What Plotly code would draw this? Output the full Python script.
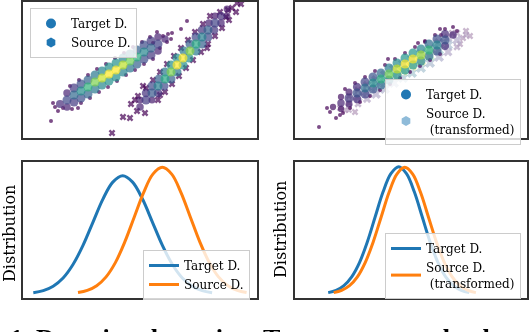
import numpy as np
import plotly.graph_objects as go

# ---- data (pixel-like units, no ticks on any axis) ----
# top-left: target cloud (round markers), value = local density
tl_tgt_x = [60, 67, 74, 81, 88, 95, 102, 109, 116, 123, 130, 137, 144, 151, 158, 165,
            67, 74, 81, 88, 95, 102, 109, 116, 123, 130, 137, 144, 151, 158,
            67, 74, 81, 88, 95, 102, 109, 116, 123, 130, 137, 144, 151, 158,
            70, 79, 88, 97, 106, 115, 124, 133, 142, 150, 157,
            72, 81, 90, 99, 108, 117, 126, 135, 144, 153,
            51, 55, 58, 63, 78, 53, 168, 163, 172, 171, 181, 187, 167, 153, 160]
tl_tgt_y = [104, 100, 95, 91, 87, 82, 78, 74, 70, 65, 61, 57, 52, 48, 44, 39,
            93, 88, 84, 80, 75, 71, 67, 63, 58, 54, 50, 45, 41, 37,
            107, 102, 98, 94, 89, 85, 81, 77, 72, 68, 64, 59, 55, 51,
            86, 80, 75, 69, 64, 58, 53, 47, 42, 37, 32,
            109, 103, 98, 92, 87, 81, 75, 70, 64, 59,
            121, 107, 111, 108, 108, 103, 34, 36, 33, 39, 29, 21, 42, 43, 48]
tl_tgt_d = [0.12, 0.22, 0.34, 0.48, 0.65, 0.8, 0.92, 1.0, 1.0, 0.9, 0.78, 0.62, 0.46, 0.32, 0.2, 0.1,
            0.1, 0.17, 0.24, 0.32, 0.4, 0.46, 0.5, 0.5, 0.45, 0.39, 0.31, 0.23, 0.16, 0.1,
            0.1, 0.17, 0.24, 0.32, 0.4, 0.46, 0.5, 0.5, 0.45, 0.39, 0.31, 0.23, 0.16, 0.1] + [0] * 36

# top-left: source cloud (x markers)
tl_src_x = [140, 146, 152, 158, 165, 171, 177, 183, 190, 196, 202, 208, 215, 221, 227,
            140, 146, 152, 159, 165, 171, 177, 184, 190, 196, 202, 209, 215,
            152, 158, 164, 171, 177, 183, 189, 196, 202, 208, 214, 221, 227,
            131, 138, 146, 153, 160, 167, 174, 181, 188, 195, 203, 210,
            158, 165, 172, 179, 186, 193, 201, 208, 215, 222, 229, 236,
            112, 123, 130, 137, 135, 143, 160, 207, 237, 241, 228, 226, 232, 220, 145]
tl_src_y = [107, 100, 93, 86, 79, 72, 65, 58, 51, 44, 37, 30, 23, 16, 9,
            100, 93, 86, 79, 72, 65, 58, 51, 44, 37, 30, 23, 16,
            100, 93, 86, 79, 72, 65, 58, 51, 44, 37, 30, 23, 16,
            104, 96, 88, 80, 72, 64, 56, 48, 40, 32, 24, 16,
            100, 92, 84, 76, 68, 60, 52, 44, 36, 28, 20, 12,
            133, 117, 118, 111, 100, 86, 95, 48, 3, 4, 10, 17, 8, 12, 113]
tl_src_d = [0.1, 0.17, 0.28, 0.43, 0.6, 0.8, 1.0, 1.0, 0.82, 0.6, 0.43, 0.3, 0.2, 0.13, 0.07,
            0.08, 0.14, 0.22, 0.3, 0.4, 0.5, 0.5, 0.41, 0.3, 0.22, 0.15, 0.1, 0.07,
            0.08, 0.14, 0.22, 0.3, 0.4, 0.5, 0.5, 0.41, 0.3, 0.22, 0.15, 0.1, 0.07] + [0] * 39

# top-right: target cloud
tr_tgt_x = [333, 341, 349, 357, 365, 373, 381, 389, 397, 405, 413, 421, 429, 437, 445, 453,
            341, 349, 357, 365, 373, 381, 389, 397, 405, 413, 421, 429, 437, 445,
            341, 349, 357, 365, 373, 381, 389, 397, 405, 413, 421, 429, 437, 445,
            345, 355, 365, 375, 385, 395, 405, 415, 425, 435, 445,
            350, 360, 370, 380, 390, 400, 410, 420, 430, 440,
            319, 327, 330, 340, 343, 336, 453, 440, 441, 418, 425, 388, 457]
tr_tgt_y = [107, 103, 98, 93, 88, 83, 79, 74, 69, 64, 59, 55, 50, 45, 40, 35,
            97, 92, 87, 82, 77, 73, 68, 63, 58, 53, 49, 44, 39, 34,
            109, 104, 99, 94, 89, 85, 80, 75, 70, 65, 61, 56, 51, 46,
            89, 83, 77, 71, 65, 59, 53, 47, 41, 35, 29,
            108, 102, 96, 90, 84, 78, 72, 66, 60, 54,
            127, 108, 112, 115, 113, 118, 27, 29, 35, 43, 42, 59, 31]
tr_tgt_d = [0.05, 0.1, 0.16, 0.25, 0.36, 0.48, 0.62, 0.78, 0.92, 1.0, 1.0, 0.86, 0.66, 0.45, 0.25, 0.1,
            0.05, 0.08, 0.13, 0.2, 0.26, 0.34, 0.42, 0.48, 0.52, 0.52, 0.45, 0.35, 0.24, 0.12,
            0.05, 0.08, 0.13, 0.2, 0.26, 0.34, 0.42, 0.48, 0.52, 0.52, 0.45, 0.35, 0.24, 0.12] + [0] * 34

# top-right: transformed source cloud
tr_src_x = [340, 349, 358, 367, 376, 385, 394, 403, 412, 421, 430, 439, 448, 457, 466,
            349, 358, 367, 376, 385, 394, 403, 412, 421, 430, 439, 448, 457,
            349, 358, 367, 376, 385, 394, 403, 412, 421, 430, 439, 448, 457,
            463, 466, 460, 355, 345, 470, 452]
tr_src_y = [108, 103, 97, 92, 87, 82, 76, 71, 66, 61, 56, 50, 45, 40, 35,
            96, 90, 85, 80, 75, 69, 64, 59, 54, 49, 43, 38, 33,
            110, 104, 99, 94, 89, 83, 78, 73, 68, 63, 57, 52, 47,
            38, 31, 44, 112, 110, 36, 33]
tr_src_d = [0.04, 0.08, 0.14, 0.24, 0.38, 0.55, 0.74, 0.9, 1.0, 0.9, 0.72, 0.5, 0.3, 0.14, 0.05,
            0.03, 0.06, 0.1, 0.15, 0.22, 0.3, 0.36, 0.4, 0.36, 0.29, 0.2, 0.12, 0.06,
            0.03, 0.06, 0.1, 0.15, 0.22, 0.3, 0.36, 0.4, 0.36, 0.29, 0.2, 0.12, 0.06] + [0] * 7

# bottom-left: 1D distributions before adaptation
bl_tgt_x = [10.3, 20.3, 30.2, 40.1, 50.0, 60.0, 69.9, 79.8, 89.8, 99.7,
            109.6, 119.6, 129.5, 139.4, 149.4, 159.3, 169.2, 179.1, 189.1]
bl_tgt_y = [5.3, 7.4, 11.8, 20.0, 33.5, 52.6, 75.7, 98.7, 115.9, 122.3,
            115.9, 98.7, 75.7, 52.6, 33.5, 20.0, 11.8, 7.4, 5.3]
bl_src_x = [55.0, 64.3, 73.7, 83.1, 92.5, 101.8, 111.2, 120.6, 129.9, 139.3,
            148.7, 158.0, 167.4, 176.8, 186.2, 195.5, 204.9, 214.3, 223.6]
bl_src_y = [5.4, 7.6, 12.3, 21.1, 35.6, 56.1, 80.8, 105.4, 123.9, 130.7,
            123.9, 105.4, 80.8, 56.1, 35.6, 21.1, 12.3, 7.6, 5.4]

# bottom-right: after transformation
br_tgt_x = [33.2, 41.1, 48.9, 56.7, 64.6, 72.4, 80.2, 88.0, 95.9, 103.7,
            111.5, 119.4, 127.2, 135.0, 142.9, 150.7, 158.5, 166.3, 174.2]
br_tgt_y = [5.4, 7.6, 12.4, 21.2, 35.7, 56.3, 81.2, 105.9, 124.4, 131.3,
            124.4, 105.9, 81.2, 56.3, 35.7, 21.2, 12.4, 7.6, 5.4]
br_src_x = [38.7, 46.6, 54.5, 62.4, 70.3, 78.2, 86.1, 94.0, 101.9, 109.8,
            117.7, 125.6, 133.5, 141.4, 149.3, 157.2, 165.1, 173.0, 180.9]
br_src_y = [5.4, 7.6, 12.3, 21.1, 35.6, 56.1, 80.8, 105.4, 123.9, 130.7,
            123.9, 105.4, 80.8, 56.1, 35.6, 21.1, 12.3, 7.6, 5.4]

BLUE = "#1f77b4"
ORANGE = "#ff7f0e"
FONT = "DejaVu Serif"
W, H = 532, 332


def px(p):
    return p / W


def py(p):
    return 1 - p / H


def cloud(x, y, d, core_symbol, edge_symbol, big, small, xa, ya, opacity=1.0):
    x, y, d = np.array(x), np.array(y), np.array(d, dtype=float)
    order = np.argsort(d, kind="stable")  # dense points drawn last
    d = d[order]
    dense = d > 0
    # sparse tails get smaller dots, the core fills in with bigger ones
    sizes = np.where(dense, np.clip(5 + d * 25, 5, big), small)
    return go.Scatter(x=x[order], y=y[order], mode="markers", xaxis=xa, yaxis=ya,
                      showlegend=False, hoverinfo="skip", opacity=opacity,
                      marker=dict(color=d, colorscale="Viridis", cmin=0, cmax=1,
                                  size=sizes,
                                  symbol=np.where(dense, core_symbol, edge_symbol),
                                  line=dict(width=0)))


def legend_dot(name, color, symbol, xa, ya, legend):
    return go.Scatter(x=[None], y=[None], mode="markers", name=name, xaxis=xa, yaxis=ya,
                      legend=legend, marker=dict(color=color, size=10, symbol=symbol))


fig = go.Figure()
fig.add_trace(cloud(tl_tgt_x, tl_tgt_y, tl_tgt_d, "circle", "circle", 9, 4, "x", "y"))
fig.add_trace(cloud(tl_src_x, tl_src_y, tl_src_d, "circle", "x", 9, 6, "x", "y"))
fig.add_trace(cloud(tr_src_x, tr_src_y, tr_src_d, "x", "x", 9, 6, "x2", "y2", opacity=0.4))
fig.add_trace(cloud(tr_tgt_x, tr_tgt_y, tr_tgt_d, "circle", "circle", 9, 4, "x2", "y2"))

fig.add_trace(legend_dot("Target D.", BLUE, "circle", "x", "y", "legend"))
fig.add_trace(legend_dot("Source D.", BLUE, "hexagon", "x", "y", "legend"))
fig.add_trace(legend_dot("Target D.", BLUE, "circle", "x2", "y2", "legend2"))
fig.add_trace(legend_dot("Source D.<br>\u00a0(transformed)", "#8fbbd9", "hexagon", "x2", "y2", "legend2"))

fig.add_trace(go.Scatter(x=bl_tgt_x, y=bl_tgt_y, mode="lines", line=dict(color=BLUE, width=3, shape="spline"),
                         name="Target D.", xaxis="x3", yaxis="y3", legend="legend3"))
fig.add_trace(go.Scatter(x=bl_src_x, y=bl_src_y, mode="lines", line=dict(color=ORANGE, width=3, shape="spline"),
                         name="Source D.", xaxis="x3", yaxis="y3", legend="legend3"))
fig.add_trace(go.Scatter(x=br_tgt_x, y=br_tgt_y, mode="lines", line=dict(color=BLUE, width=3, shape="spline"),
                         name="Target D.", xaxis="x4", yaxis="y4", legend="legend4"))
fig.add_trace(go.Scatter(x=br_src_x, y=br_src_y, mode="lines", line=dict(color=ORANGE, width=3, shape="spline"),
                         name="Source D.<br>\u00a0(transformed)", xaxis="x4", yaxis="y4", legend="legend4"))

ax = dict(showticklabels=False, ticks="", showgrid=False, zeroline=False, showline=True,
          mirror=True, linecolor="#333333", linewidth=1.5, fixedrange=True)
left_dom = [px(23), px(257)]
right_dom = [px(295), px(527)]
top_dom = [py(138), py(2)]
bot_dom = [py(298), py(162)]

leg = dict(bgcolor="rgba(255,255,255,0.8)", bordercolor="#cccccc", borderwidth=1,
           font=dict(family=FONT, size=12, color="black"), itemwidth=30,
           tracegroupgap=0, xanchor="left", yanchor="top")

fig.update_layout(
    width=W, height=H, margin=dict(l=0, r=0, t=0, b=0),
    paper_bgcolor="white", plot_bgcolor="white",
    xaxis=dict(ax, domain=left_dom, range=[23, 257], anchor="y"),
    yaxis=dict(ax, domain=top_dom, range=[138, 2], anchor="x"),
    xaxis2=dict(ax, domain=right_dom, range=[295, 527], anchor="y2"),
    yaxis2=dict(ax, domain=top_dom, range=[138, 2], anchor="x2"),
    xaxis3=dict(ax, domain=left_dom, range=[0, 234], anchor="y3"),
    yaxis3=dict(ax, domain=bot_dom, range=[0, 136], anchor="x3"),
    xaxis4=dict(ax, domain=right_dom, range=[0, 232], anchor="y4"),
    yaxis4=dict(ax, domain=bot_dom, range=[0, 136], anchor="x4"),
    legend=dict(leg, x=px(30), y=py(8)),
    legend2=dict(leg, x=px(385), y=py(79)),
    legend3=dict(leg, x=px(143), y=py(250)),
    legend4=dict(leg, x=px(385), y=py(233)),
    showlegend=True,
)

for xpos, ypos in [(9, 234), (281, 230)]:
    fig.add_annotation(text="Distribution", textangle=-90, x=px(xpos), y=py(ypos),
                       xref="paper", yref="paper", xanchor="center", yanchor="middle",
                       showarrow=False, font=dict(family=FONT, size=16, color="black"))

fig.add_annotation(text="<b>1. Domain adaptation. To compensate the domain</b>",
                   x=px(8), y=py(338), xref="paper", yref="paper", xanchor="left",
                   yanchor="middle", showarrow=False,
                   font=dict(family="Liberation Serif", size=26, color="black"))

# the page body has a default 8px margin; drop it so the figure sits at the corner
fig.write_html("out.html", config={"displayModeBar": False},
               post_script="document.body.style.margin = '0px';")
